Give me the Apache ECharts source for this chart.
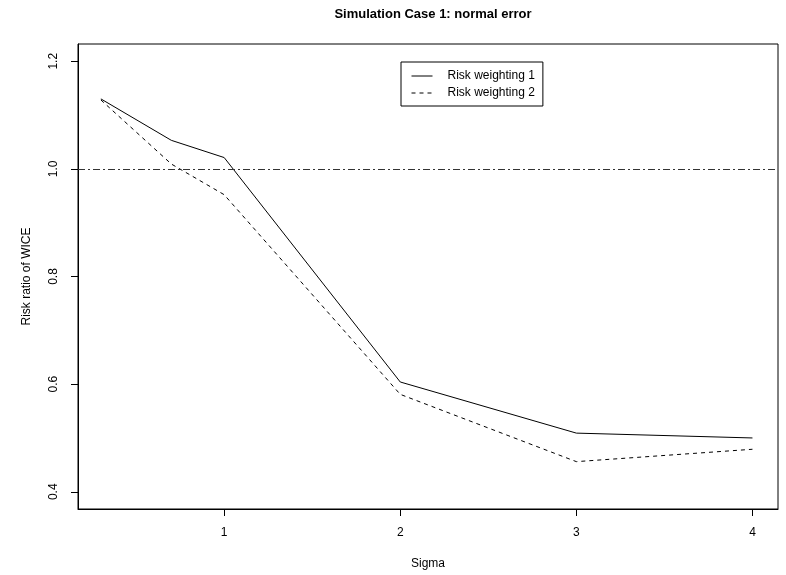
<!DOCTYPE html>
<html>
<head>
<meta charset="utf-8">
<script src="https://cdn.jsdelivr.net/npm/echarts@6/dist/echarts.min.js"></script>
<style>
  html, body { margin: 0; padding: 0; background: #fff; }
  #chart { width: 786px; height: 575px; }
</style>
</head>
<body>
<div id="chart"></div>
<script>
  const sigma = [0.3, 0.7, 1, 2, 3, 4];
  const riskWeighting1 = [1.130, 1.053, 1.021, 0.604, 0.509, 0.500];
  const riskWeighting2 = [1.128, 1.009, 0.952, 0.581, 0.456, 0.479];
  const xTicks = [1, 2, 3, 4];
  const yTicks = [0.4, 0.6, 0.8, 1.0, 1.2];
  const refLine = 1.0;

  const font = "'Liberation Sans', Arial, sans-serif";
  const chart = echarts.init(document.getElementById('chart'));

  const option = {
    animation: false,
    backgroundColor: '#fff',
    textStyle: { fontFamily: font, color: '#000' },
    title: {
      text: 'Simulation Case 1: normal error',
      left: 428,
      textAlign: 'center',
      top: 3,
      textStyle: { fontFamily: font, fontSize: 13, fontWeight: 'bold', color: '#000' },
    },
    legend: {
      orient: 'vertical',
      left: 401,
      top: 62,
      padding: [7, 8, 6, 10],
      itemGap: 3,
      itemWidth: 21,
      itemHeight: 14,
      borderColor: '#000',
      borderWidth: 1,
      borderRadius: 0,
      lineStyle: { width: 1 },
      textStyle: { fontFamily: font, fontSize: 12, color: '#000', padding: [0, 0, 0, 10], lineHeight: 14 },
      data: [
        { name: 'Risk weighting 1', itemStyle: { opacity: 0 } },
        { name: 'Risk weighting 2', itemStyle: { opacity: 0 } },
      ],
    },
    grid: {
      left: 78,
      right: 8,
      top: 44,
      bottom: 65,
      show: true,
      borderColor: '#000',
      borderWidth: 1,
      backgroundColor: 'transparent',
    },
    xAxis: {
      type: 'value',
      min: 0.17,
      max: 4.145,
      name: 'Sigma',
      nameLocation: 'middle',
      nameGap: 49,
      nameTextStyle: { fontFamily: font, fontSize: 12, color: '#000' },
      axisLine: { show: true, lineStyle: { color: '#000', width: 1 } },
      axisTick: { show: true, inside: false, length: 7, customValues: xTicks, lineStyle: { color: '#000' } },
      axisLabel: { customValues: xTicks, margin: 18, fontSize: 12, color: '#000', fontFamily: font },
      splitLine: { show: false },
    },
    yAxis: {
      type: 'value',
      min: 0.368,
      max: 1.232,
      name: 'Risk ratio of WICE',
      nameLocation: 'middle',
      nameGap: 45,
      nameTextStyle: { fontFamily: font, fontSize: 12, color: '#000' },
      axisLine: { show: true, lineStyle: { color: '#000', width: 1 } },
      axisTick: { show: true, inside: false, length: 7, customValues: yTicks, lineStyle: { color: '#000' } },
      axisLabel: {
        customValues: yTicks,
        rotate: 90,
        margin: 18,
        fontSize: 12,
        color: '#000',
        fontFamily: font,
        formatter: (v) => v.toFixed(1),
      },
      splitLine: { show: false },
    },
    series: [
      {
        name: 'Risk weighting 1',
        type: 'line',
        data: sigma.map((x, i) => [x, riskWeighting1[i]]),
        symbol: 'none',
        showSymbol: false,
        lineStyle: { color: '#000', width: 1, type: 'solid' },
        itemStyle: { color: '#000' },
        markLine: {
          silent: true,
          symbol: 'none',
          label: { show: false },
          lineStyle: { color: '#333', width: 1, type: [7, 3, 2, 3] },
          data: [{ yAxis: refLine }],
        },
      },
      {
        name: 'Risk weighting 2',
        type: 'line',
        data: sigma.map((x, i) => [x, riskWeighting2[i]]),
        symbol: 'none',
        showSymbol: false,
        lineStyle: { color: '#000', width: 1, type: [4, 4] },
        itemStyle: { color: '#000' },
      },
    ],
  };

  chart.setOption(option);
</script>
</body>
</html>
